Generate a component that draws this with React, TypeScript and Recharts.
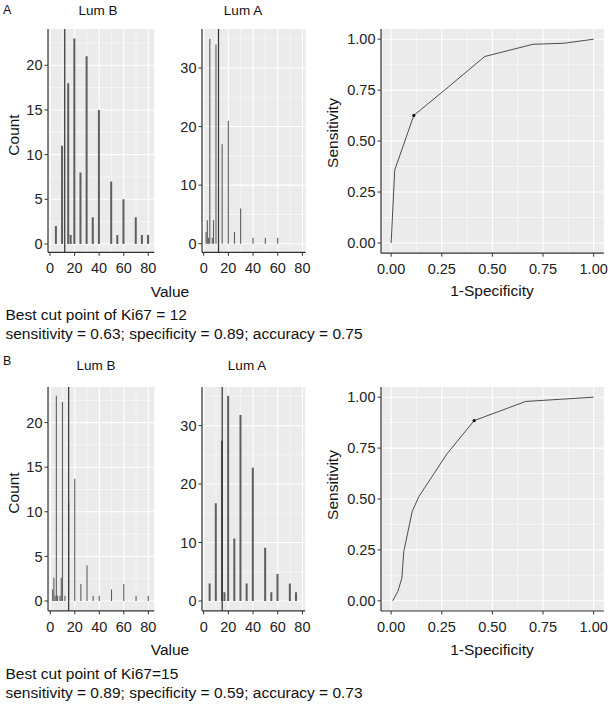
import { ComposedChart, LineChart, Bar, Line, XAxis, YAxis, CartesianGrid, ReferenceLine, ReferenceDot } from 'recharts';

const FONT = '"Liberation Sans", Arial, Helvetica, sans-serif';
const PANEL = '#EBEBEB';
const AXIS = '#333333';
const BAR = '#5E5E5E';
const TEXT = '#111111';

// tick values
const histXTicks = [0, 20, 40, 60, 80];
const histXMinor = [10, 30, 50, 70];
const countTicks25 = [0, 5, 10, 15, 20];
const countMinor25 = [2.5, 7.5, 12.5, 17.5, 22.5];
const countTicks40 = [0, 10, 20, 30];
const countMinor40 = [5, 15, 25, 35];
const rocTicks = [0, 0.25, 0.5, 0.75, 1];
const rocMinor = [0.125, 0.375, 0.625, 0.875];

// panel A
const aLumBValue = [5, 10, 15, 17, 20, 25, 30, 35, 40, 50, 55, 60, 70, 75, 80];
const aLumBCount = [2, 11, 18, 1, 23, 8, 21, 3, 15, 7, 1, 5, 3, 1, 1];
const aLumAValue = [2, 3, 4, 5, 7, 8, 10, 15, 20, 25, 30, 40, 50, 60];
const aLumACount = [2, 4, 1, 35, 1, 4, 34, 17, 21, 2, 6, 1, 1, 1];
const aCut = 12;
const aRocFpr = [0, 0.018, 0.112, 0.276, 0.462, 0.7, 0.852, 1];
const aRocTpr = [0, 0.359, 0.626, 0.76, 0.915, 0.975, 0.98, 1];
const aBestIndex = 2;

// panel B
const bLumBValue = [2, 3, 4, 5, 6, 8, 9, 10, 12, 15, 20, 25, 30, 35, 40, 50, 60, 70, 80];
const bLumBCount = [1.3, 2.6, 0.6, 23, 0.6, 0.6, 2.6, 22.3, 0.6, 11.1, 13.7, 1.9, 4, 0.6, 0.6, 1.3, 1.9, 0.6, 0.6];
const bLumAValue = [5, 10, 15, 17, 20, 25, 30, 35, 40, 50, 55, 60, 70, 75];
const bLumACount = [3, 16.7, 27.4, 1.5, 35.1, 10.7, 31.8, 3, 22.8, 9.1, 1.5, 4.6, 3, 1.5];
const bCut = 15;
const bRocFpr = [0.008, 0.033, 0.053, 0.0625, 0.104, 0.137, 0.276, 0.41, 0.664, 1];
const bRocTpr = [0, 0.046, 0.111, 0.242, 0.439, 0.512, 0.722, 0.885, 0.979, 1];
const bBestIndex = 7;

const YW = 40; // y axis width
const MT = 2;
const MR = 14;
const XH = 30;

type Rect = { left: number; top: number; right: number; bottom: number };

const tickStyle = { fill: '#222', fontSize: 14.5, fontFamily: FONT };

function Grid(xMinor: number[], xMajor: number[], yMinor: number[], yMajor: number[]) {
  return [
    <CartesianGrid
      key="minor"
      fill={PANEL}
      stroke="#fff"
      strokeWidth={0.5}
      verticalValues={xMinor}
      horizontalValues={yMinor}
    />,
    <CartesianGrid
      key="major"
      stroke="#fff"
      strokeWidth={1.1}
      verticalValues={xMajor}
      horizontalValues={yMajor}
    />,
  ];
}

function Hist(props: {
  values: number[];
  counts: number[];
  cut: number;
  rect: Rect;
  xDomain: number[];
  yDomain: number[];
  yTicks: number[];
  yMinor: number[];
}) {
  const { values, counts, cut, rect, xDomain, yDomain, yTicks, yMinor } = props;
  const data = values.map((v, i) => ({ value: v, count: counts[i] }));
  const w = rect.right - rect.left + YW + MR;
  const h = rect.bottom - rect.top + MT + XH;
  return (
    <div style={{ position: 'absolute', left: rect.left - YW, top: rect.top - MT }}>
      <ComposedChart width={w} height={h} data={data} margin={{ top: MT, right: MR, bottom: 0, left: 0 }}>
        {Grid(histXMinor, histXTicks, yMinor, yTicks)}
        <XAxis
          type="number"
          dataKey="value"
          domain={xDomain}
          ticks={histXTicks}
          interval={0}
          allowDataOverflow
          height={XH}
          tick={tickStyle}
          tickSize={3.5}
          tickMargin={7}
          axisLine={{ stroke: AXIS, strokeWidth: 1.2 }}
          tickLine={{ stroke: AXIS }}
        />
        <YAxis
          type="number"
          domain={yDomain}
          ticks={yTicks}
          interval={0}
          allowDataOverflow
          width={YW}
          tick={tickStyle}
          tickSize={3.5}
          tickMargin={2}
          axisLine={{ stroke: AXIS, strokeWidth: 1.2 }}
          tickLine={{ stroke: AXIS }}
        />
        <Bar dataKey="count" barSize={2} fill={BAR} isAnimationActive={false} />
        <ReferenceLine x={cut} stroke={AXIS} strokeWidth={1.2} />
      </ComposedChart>
    </div>
  );
}

function Roc(props: { fpr: number[]; tpr: number[]; best: number; rect: Rect }) {
  const { fpr, tpr, best, rect } = props;
  const data = fpr.map((f, i) => ({ fpr: f, tpr: tpr[i] }));
  const w = rect.right - rect.left + YW + MR;
  const h = rect.bottom - rect.top + MT + XH;
  return (
    <div style={{ position: 'absolute', left: rect.left - YW, top: rect.top - MT }}>
      <LineChart width={w} height={h} data={data} margin={{ top: MT, right: MR, bottom: 0, left: 0 }}>
        {Grid(rocMinor, rocTicks, rocMinor, rocTicks)}
        <XAxis
          type="number"
          dataKey="fpr"
          domain={[-0.05, 1.05]}
          ticks={rocTicks}
          interval={0}
          allowDataOverflow
          height={XH}
          tick={tickStyle}
          tickFormatter={(v: number) => v.toFixed(2)}
          tickSize={3.5}
          tickMargin={7}
          axisLine={{ stroke: AXIS, strokeWidth: 1.2 }}
          tickLine={{ stroke: AXIS }}
        />
        <YAxis
          type="number"
          domain={[-0.05, 1.05]}
          ticks={rocTicks}
          interval={0}
          allowDataOverflow
          width={YW}
          tick={tickStyle}
          tickFormatter={(v: number) => v.toFixed(2)}
          tickSize={3.5}
          tickMargin={2}
          axisLine={{ stroke: AXIS, strokeWidth: 1.2 }}
          tickLine={{ stroke: AXIS }}
        />
        <Line type="linear" dataKey="tpr" stroke="#3a3a3a" strokeWidth={0.9} dot={false} isAnimationActive={false} />
        <ReferenceDot x={fpr[best]} y={tpr[best]} r={1.6} fill="#111" stroke="none" />
      </LineChart>
    </div>
  );
}

function T(p: { x: number; y: number; size: number; anchor?: string; rotate?: boolean; children: any }) {
  return (
    <text
      x={p.x}
      y={p.y}
      fontSize={p.size}
      fontFamily={FONT}
      fill={TEXT}
      textAnchor={p.anchor || 'start'}
      transform={p.rotate ? `rotate(-90 ${p.x} ${p.y})` : undefined}
    >
      {p.children}
    </text>
  );
}

export default function App() {
  return (
    <div style={{ position: 'absolute', left: 0, top: 0, width: 613, height: 705, background: '#fff' }}>
      <Hist
        values={aLumBValue}
        counts={aLumBCount}
        cut={aCut}
        rect={{ left: 48, top: 29, right: 154.3, bottom: 252.3 }}
        xDomain={[-1.63, 84.9]}
        yDomain={[-0.93, 24.06]}
        yTicks={countTicks25}
        yMinor={countMinor25}
      />
      <Hist
        values={aLumAValue}
        counts={aLumACount}
        cut={aCut}
        rect={{ left: 202.3, top: 29, right: 306, bottom: 252.3 }}
        xDomain={[-1.38, 82.65]}
        yDomain={[-1.47, 36.66]}
        yTicks={countTicks40}
        yMinor={countMinor40}
      />
      <Roc fpr={aRocFpr} tpr={aRocTpr} best={aBestIndex} rect={{ left: 380.7, top: 29.2, right: 603.5, bottom: 253.4 }} />

      <Hist
        values={bLumBValue}
        counts={bLumBCount}
        cut={bCut}
        rect={{ left: 47.7, top: 386.7, right: 154, bottom: 610.5 }}
        xDomain={[-1.86, 84.85]}
        yDomain={[-1.1, 23.99]}
        yTicks={countTicks25}
        yMinor={countMinor25}
      />
      <Hist
        values={bLumAValue}
        counts={bLumACount}
        cut={bCut}
        rect={{ left: 202.3, top: 386.7, right: 305.5, bottom: 610.5 }}
        xDomain={[-1.38, 82.25]}
        yDomain={[-1.68, 36.6]}
        yTicks={countTicks40}
        yMinor={countMinor40}
      />
      <Roc fpr={bRocFpr} tpr={bRocTpr} best={bBestIndex} rect={{ left: 380.7, top: 387, right: 603.5, bottom: 611 }} />

      <svg width={613} height={705} style={{ position: 'absolute', left: 0, top: 0, pointerEvents: 'none' }}>
        <T x={3} y={14} size={12.5}>A</T>
        <T x={98} y={15} size={13.5} anchor="middle">Lum B</T>
        <T x={243} y={15} size={13.5} anchor="middle">Lum A</T>
        <T x={19} y={135} size={15.5} anchor="middle" rotate>Count</T>
        <T x={170} y={297} size={15.5} anchor="middle">Value</T>
        <T x={338} y={133} size={15.5} anchor="middle" rotate>Sensitivity</T>
        <T x={492} y={296} size={15.5} anchor="middle">1-Specificity</T>
        <T x={5.5} y={320} size={15.5}>Best cut point of Ki67 = 12</T>
        <T x={5.5} y={339} size={15.5}>sensitivity = 0.63; specificity = 0.89; accuracy = 0.75</T>

        <T x={3} y={365} size={12.5}>B</T>
        <T x={96} y={370} size={13.5} anchor="middle">Lum B</T>
        <T x={247} y={370} size={13.5} anchor="middle">Lum A</T>
        <T x={19} y={493} size={15.5} anchor="middle" rotate>Count</T>
        <T x={170} y={655} size={15.5} anchor="middle">Value</T>
        <T x={338} y={485} size={15.5} anchor="middle" rotate>Sensitivity</T>
        <T x={492} y={655} size={15.5} anchor="middle">1-Specificity</T>
        <T x={5.5} y={679} size={15.5}>Best cut point of Ki67=15</T>
        <T x={5.5} y={698} size={15.5}>sensitivity = 0.89; specificity = 0.59; accuracy = 0.73</T>
      </svg>
    </div>
  );
}
